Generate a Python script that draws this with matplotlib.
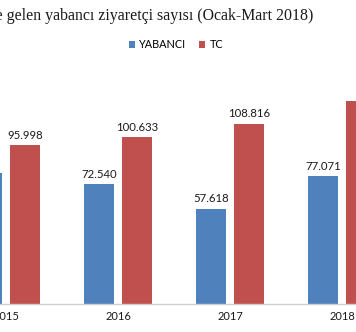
import numpy as np
import matplotlib
matplotlib.use("Agg")
import matplotlib.pyplot as plt

# Ziyaretçi sayıları (Ocak-Mart dönemi)
years = ["2015", "2016", "2017", "2018"]
yabanci = [79257, 72540, 57618, 77071]
tc = [95998, 100633, 108816, 122718]

BLUE = "#4f81bd"
RED = "#c0504d"


def fmt(v):
    return f"{v:,}".replace(",", ".")


fig = plt.figure(figsize=(3.56, 3.32), dpi=100)

# axes span the full width; first group sits near the left edge
px_w, px_h = 356, 332
group_px = 112
x0_px = 6
base_px = 304
top_px = 60
ax = fig.add_axes([0, (px_h - base_px) / px_h, 1, (base_px - top_px) / px_h])

x = np.arange(len(years))
w = 0.265
off = 0.168
b1 = ax.bar(x - off, yabanci, w, color=BLUE, label="YABANCI")
b2 = ax.bar(x + off, tc, w, color=RED, label="TC")

ax.set_xlim(-x0_px / group_px, (px_w - x0_px) / group_px)
ax.set_ylim(0, (base_px - top_px) / 1.655 * 1000)

lab_font = dict(family="Lato", size=8.2, color="#1a1a1a")
ax.bar_label(b1, labels=[fmt(v) for v in yabanci], padding=3.2, **lab_font)
ax.bar_label(b2, labels=[fmt(v) for v in tc], padding=3.2, **lab_font)

ax.set_xticks(x)
ax.set_xticklabels(years, fontfamily="Lato", fontsize=8, color="#1a1a1a")
ax.tick_params(axis="x", length=0, pad=5)
ax.set_yticks([])
for s in ["left", "right", "top"]:
    ax.spines[s].set_visible(False)
ax.spines["bottom"].set_color("#d0d0d0")
ax.spines["bottom"].set_linewidth(1.0)

fig.text(313 / px_w, 1 - 16 / px_h,
         "Nevşehir'e gelen yabancı ziyaretçi sayısı (Ocak-Mart 2018)",
         ha="right", va="center", family="Liberation Serif", size=11.4,
         color="#1a1a1a")

fig.legend(handles=[b1, b2], loc="center", bbox_to_anchor=(176 / px_w, 1 - 45 / px_h),
           ncol=2, frameon=False, prop=dict(family="Lato", size=7.8),
           handlelength=0.55, handleheight=0.55, handletextpad=0.4, columnspacing=1.2)

fig.savefig("out.png", dpi=100)
